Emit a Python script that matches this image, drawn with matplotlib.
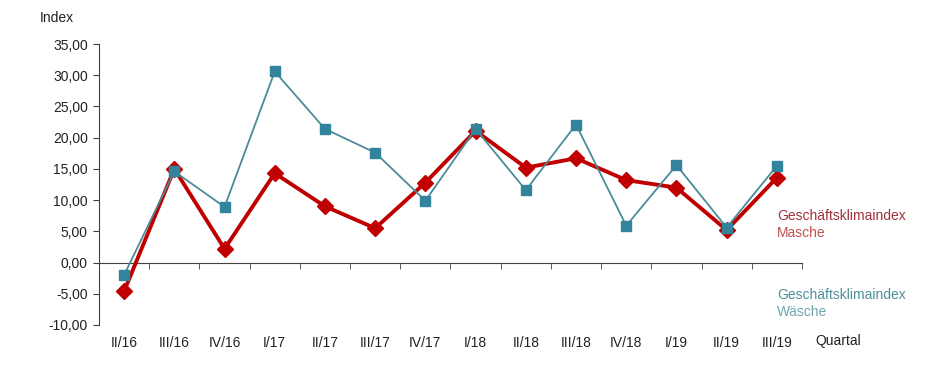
import matplotlib
matplotlib.use("Agg")
import matplotlib.pyplot as plt
from matplotlib.ticker import FuncFormatter, FixedLocator
import numpy as np

plt.rcParams['font.family'] = ['Liberation Sans', 'DejaVu Sans']

quartale = ["II/16", "III/16", "IV/16", "I/17", "II/17", "III/17", "IV/17",
            "I/18", "II/18", "III/18", "IV/18", "I/19", "II/19", "III/19"]
masche = [-4.6, 15.0, 2.2, 14.3, 9.0, 5.5, 12.8, 21.1, 15.2, 16.7, 13.2, 12.0, 5.2, 13.6]
waesche = [-2.0, 14.6, 8.9, 30.6, 21.4, 17.6, 9.9, 21.4, 11.6, 22.1, 5.9, 15.6, 5.6, 15.5]

RED = "#C00000"
TEAL_M = "#31849B"
TEAL_L = "#4B8B98"
AXC = "#404040"

fig = plt.figure(figsize=(9.45, 3.72), dpi=100)
ax = fig.add_axes([99/945, 47/372, 703/945, 281/372])

x = np.arange(len(quartale))
ax.plot(x, masche, color=RED, lw=2.8, marker="D", ms=8.5, mfc=RED, mec=RED, zorder=3)
ax.plot(x, waesche, color=TEAL_L, lw=1.3, marker="s", ms=7, mfc=TEAL_M, mec=TEAL_M, zorder=4)

ax.set_xlim(-0.5, len(quartale) - 0.5)
ax.set_ylim(-10, 35)
ax.set_yticks(np.arange(-10, 36, 5))
ax.yaxis.set_major_formatter(FuncFormatter(lambda v, p: f"{v:.2f}".replace(".", ",")))

for s in ["top", "right"]:
    ax.spines[s].set_visible(False)
ax.spines["left"].set_color(AXC)
ax.spines["bottom"].set_color(AXC)
ax.spines["bottom"].set_position(("data", 0))

ax.set_xticks(x)
ax.set_xticklabels(quartale)
ax.xaxis.set_minor_locator(FixedLocator(np.arange(-0.5, len(quartale), 1.0)))
ax.tick_params(axis="x", which="major", length=0, pad=53, labelsize=10, colors="#222222")
ax.tick_params(axis="x", which="minor", length=4, direction="out", color=AXC)
ax.tick_params(axis="y", length=4, direction="out", color=AXC, labelsize=10,
               labelcolor="#222222", pad=4)

fig.text(57/945, 1 - 18/372, "Index", fontsize=10, color="#222222", ha="center", va="center")
fig.text(838/945, 1 - 341/372, "Quartal", fontsize=10, color="#222222", ha="center", va="center")

fig.text(777/945, 1 - 216/372, "Geschäftsklimaindex", fontsize=10, color="#A0313B", va="center")
fig.text(777/945, 1 - 233/372, "Masche", fontsize=10, color="#C0504D", va="center")
fig.text(777/945, 1 - 295/372, "Geschäftsklimaindex", fontsize=10, color="#4E9099", va="center")
fig.text(777/945, 1 - 312/372, "Wäsche", fontsize=10, color="#6FA6AD", va="center")

fig.savefig("out.png", dpi=100)
